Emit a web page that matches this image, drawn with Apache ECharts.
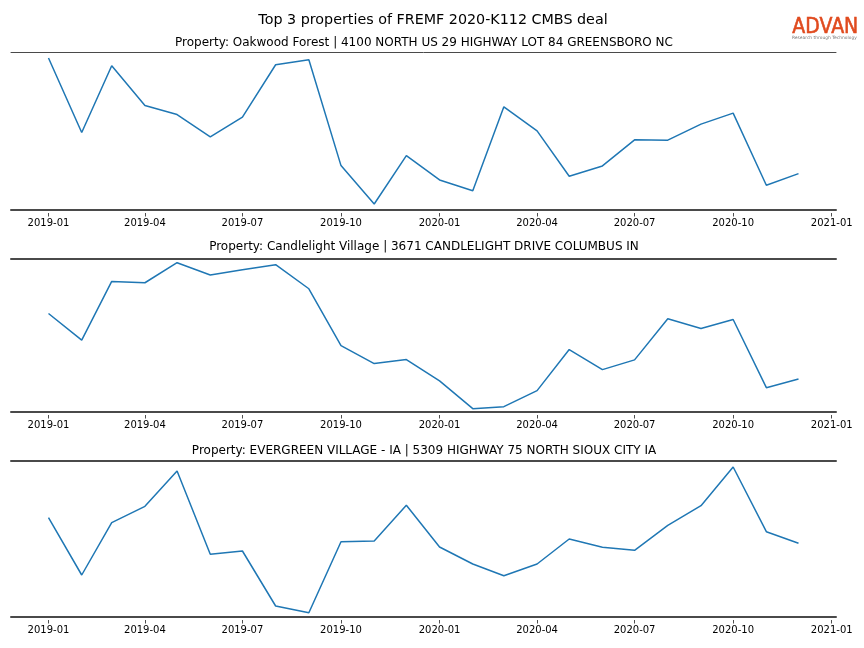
<!DOCTYPE html>
<html>
<head>
<meta charset="utf-8">
<style>
  html, body { margin: 0; padding: 0; background: #fff; }
  #chart { width: 864px; height: 648px; }
</style>
<script src="https://cdn.jsdelivr.net/npm/echarts@6/dist/echarts.min.js"></script>
</head>
<body>
<div id="chart"></div>
<script>
// ---- Data ----
const mainTitle = 'Top 3 properties of FREMF 2020-K112 CMBS deal';
const months = ['2019-01','2019-02','2019-03','2019-04','2019-05','2019-06','2019-07','2019-08','2019-09','2019-10','2019-11','2019-12',
                '2020-01','2020-02','2020-03','2020-04','2020-05','2020-06','2020-07','2020-08','2020-09','2020-10','2020-11','2020-12'];
const tickLabels = ['2019-01','2019-04','2019-07','2019-10','2020-01','2020-04','2020-07','2020-10','2021-01'];
const titles = [
  'Property: Oakwood Forest | 4100 NORTH US 29 HIGHWAY LOT 84 GREENSBORO NC',
  'Property: Candlelight Village | 3671 CANDLELIGHT DRIVE COLUMBUS IN',
  'Property: EVERGREEN VILLAGE - IA | 5309 HIGHWAY 75 NORTH SIOUX CITY IA'
];
// relative monthly activity (arbitrary units)
const oakwood = [151.7, 77.3, 144, 104.3, 95.3, 73, 92.7, 145, 150, 44.3, 6, 54.3,
                 30, 19.3, 103, 79, 33.7, 44, 70, 69.7, 85.7, 96.7, 24.7, 36.3];
const candlelight = [98.3, 71.7, 130.3, 129, 149, 136.7, 142, 147, 123, 66.3, 48.3, 52.3,
                     31, 3.3, 5.3, 21.3, 62.3, 42.3, 52, 93, 83.3, 92.3, 24.3, 33];
const evergreen = [99.3, 42, 94.3, 110.7, 146, 62.7, 66, 11, 4.3, 75.3, 76, 111.7,
                   70, 53, 41.3, 53, 78, 69.7, 66.7, 91.7, 111.3, 150, 85.3, 73.7];
const seriesData = [oakwood, candlelight, evergreen];
const yMax = [157.7, 152.7, 156];

// ---- Helpers ----
function ts(s) { const p = s.split('-'); return Date.UTC(+p[0], +p[1] - 1, 1); }
function fmt(v) { const d = new Date(v); const m = d.getUTCMonth() + 1; return d.getUTCFullYear() + '-' + (m < 10 ? '0' + m : m); }
const xMin = Date.UTC(2018, 10, 27);
const xMax = Date.UTC(2021, 0, 5);
const tickVals = tickLabels.map(ts);

const gridTops = [52, 259, 461];
const gridHeights = [158, 153, 156];
const titleTops = [32, 236, 440];
const topSpineW = [1, 2, 2];
const spineColor = '#4a4a4a';
const FONT = 'DejaVu Sans';

const grids = [], xAxes = [], yAxes = [], series = [], titleArr = [];
titleArr.push({ text: mainTitle, left: 428, top: 8, textAlign: 'center',
  textStyle: { fontFamily: FONT, fontSize: 14.3, fontWeight: 'normal', color: '#000' } });

for (let i = 0; i < 3; i++) {
  grids.push({ left: 11, right: 28, top: gridTops[i], height: gridHeights[i], containLabel: false });
  titleArr.push({ text: titles[i], left: 419, top: titleTops[i], textAlign: 'center',
    textStyle: { fontFamily: FONT, fontSize: 12, fontWeight: 'normal', color: '#000' } });
  const base = xAxes.length;
  // bottom spine
  xAxes.push({ type: 'value', gridIndex: i, min: xMin, max: xMax, position: 'bottom',
    axisLine: { show: true, lineStyle: { color: spineColor, width: 2 } },
    axisTick: { show: false }, axisLabel: { show: false }, splitLine: { show: false } });
  // ticks + labels
  xAxes.push({ type: 'value', gridIndex: i, min: xMin, max: xMax, position: 'bottom', offset: 3,
    axisLine: { show: false },
    axisTick: { show: true, customValues: tickVals, length: 3.5, lineStyle: { color: '#222', width: 0.8 } },
    axisLabel: { show: true, customValues: tickVals, formatter: fmt, margin: 5,
      fontFamily: FONT, fontSize: 10, color: '#000' },
    splitLine: { show: false } });
  // top spine
  xAxes.push({ type: 'value', gridIndex: i, min: xMin, max: xMax, position: 'top',
    axisLine: { show: true, lineStyle: { color: spineColor, width: topSpineW[i] } },
    axisTick: { show: false }, axisLabel: { show: false }, splitLine: { show: false } });
  yAxes.push({ type: 'value', gridIndex: i, min: 0, max: yMax[i], show: false, splitLine: { show: false } });
  series.push({ type: 'line', xAxisIndex: base + 1, yAxisIndex: i,
    data: seriesData[i].map((v, k) => [ts(months[k]), v]),
    showSymbol: false, symbol: 'none', lineStyle: { color: '#1f77b4', width: 1.5 },
    animation: false });
}

const chart = echarts.init(document.getElementById('chart'), null, { renderer: 'canvas' });
chart.setOption({
  backgroundColor: '#fff',
  animation: false,
  title: titleArr,
  grid: grids,
  xAxis: xAxes,
  yAxis: yAxes,
  series: series,
  graphic: [
    { type: 'text', left: 792, top: 17, scaleX: 0.9,
      style: { text: 'ADVAN', fontFamily: FONT, fontSize: 21, fontWeight: 'normal', fill: '#e04a1e', stroke: '#e04a1e', lineWidth: 0.6 } },
    { type: 'text', left: 792, top: 36,
      style: { text: 'Research through Technology', fontFamily: FONT, fontSize: 4.4, fill: '#777' } }
  ]
});
</script>
</body>
</html>
